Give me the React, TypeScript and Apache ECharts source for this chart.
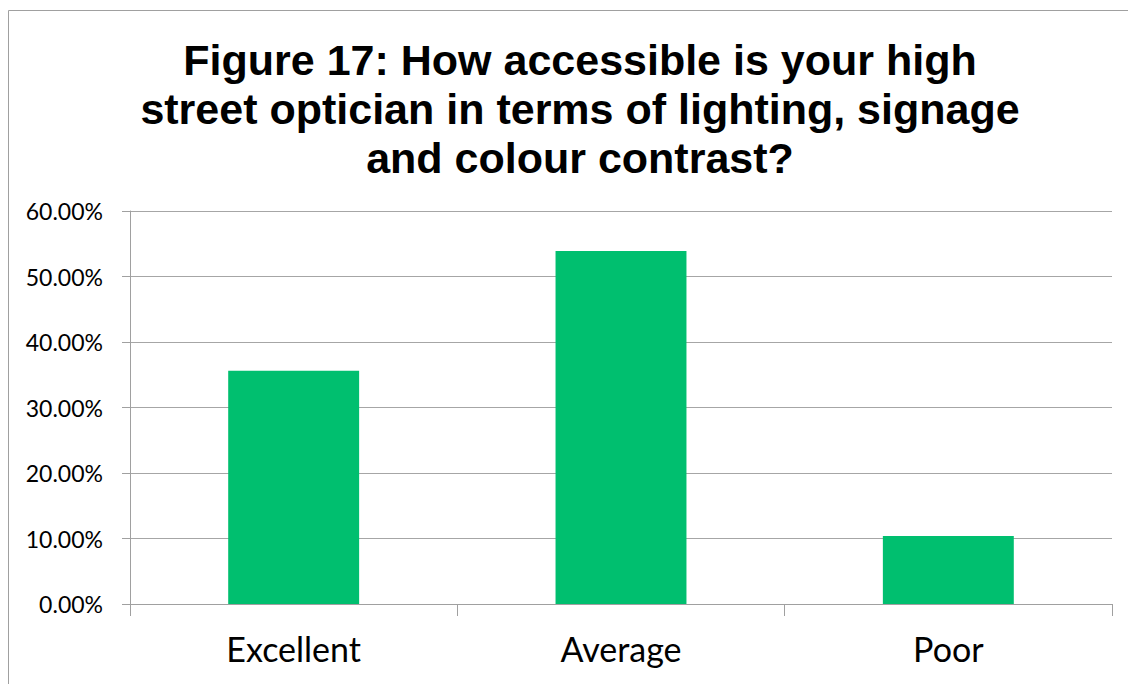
import React, { useEffect, useRef } from "react";
import * as echarts from "echarts";

const categories = ["Excellent", "Average", "Poor"];
const values = [35.6, 53.9, 10.4];
const titleLines = [
  "Figure 17: How accessible is your high",
  "street optician in terms of lighting, signage",
  "and colour contrast?",
];

export default function App() {
  const ref = useRef<HTMLDivElement>(null);
  useEffect(() => {
    document.body.style.margin = "0";
    const chart = echarts.init(ref.current!, null, { renderer: "svg" });
    chart.setOption({
      animation: false,
      backgroundColor: "#ffffff",
      title: {
        text: titleLines.join("\n"),
        left: 575,
        textAlign: "center",
        top: 30,
        textStyle: {
          fontFamily: "'Liberation Sans', Arial, sans-serif",
          fontWeight: "bold",
          fontSize: 43,
          lineHeight: 49,
          color: "#000000",
        },
      },
      graphic: [
        {
          type: "rect",
          shape: { x: 8.5, y: 10.5, width: 1140, height: 700 },
          style: { fill: "none", stroke: "#a0a0a0", lineWidth: 1 },
          silent: true,
        },
      ],
      grid: { left: 130, right: 16, top: 211, bottom: 80 },
      xAxis: {
        type: "category",
        data: categories,
        axisLine: { lineStyle: { color: "#a0a0a0", width: 1 } },
        axisTick: { show: true, length: 12, lineStyle: { color: "#a0a0a0" } },
        axisLabel: {
          fontFamily: "Lato, sans-serif",
          fontSize: 34,
          color: "#000000",
          margin: 27,
        },
      },
      yAxis: {
        type: "value",
        min: 0,
        max: 60,
        interval: 10,
        axisLine: { show: true, lineStyle: { color: "#a0a0a0", width: 1 } },
        axisTick: { show: true, length: 8, lineStyle: { color: "#a0a0a0" } },
        splitLine: { lineStyle: { color: "#a6a6a6", width: 1 } },
        axisLabel: {
          fontFamily: "Lato, sans-serif",
          fontSize: 23,
          color: "#000000",
          margin: 27,
          formatter: (v: number) => v.toFixed(2) + "%",
        },
      },
      series: [
        {
          type: "bar",
          data: values,
          barCategoryGap: "60%",
          itemStyle: { color: "#00BF6F" },
        },
      ],
    });
    return () => chart.dispose();
  }, []);
  return (
    <div
      ref={ref}
      style={{ position: "fixed", left: 0, top: 0, width: 1128, height: 684 }}
    />
  );
}
